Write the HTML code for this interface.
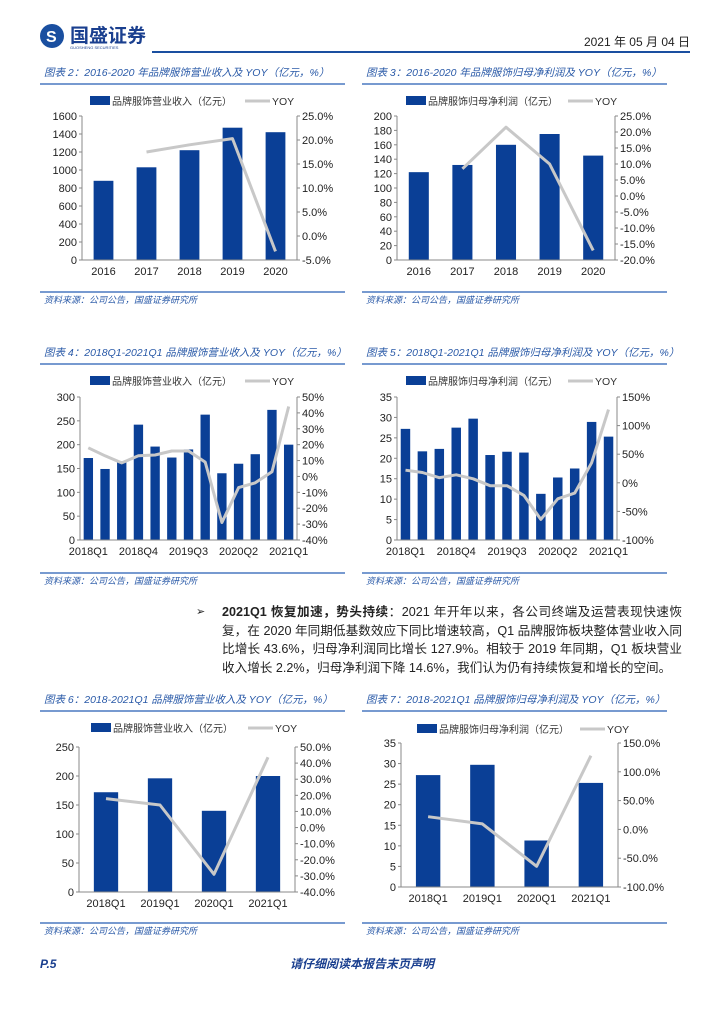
<!DOCTYPE html>
<html><head><meta charset="utf-8">
<style>
body{margin:0;background:#fff;}
svg{display:block;font-family:"Liberation Sans","Noto Sans CJK SC",sans-serif;}
.para{position:absolute;left:222px;top:603px;width:460px;font-size:12.6px;line-height:18.7px;color:#222;text-align:justify;font-family:"Liberation Sans","Noto Sans CJK SC",sans-serif;}
</style></head>
<body>
<div style="position:relative;width:724px;height:1024px;overflow:hidden">
<svg id="pg" width="724" height="1024" viewBox="0 0 724 1024">
  <g>
    <circle cx="52" cy="36" r="12" fill="#1a4fa0"/>
    <text x="46" y="42" font-size="16" font-weight="bold" fill="#fff">S</text>
    <text x="70" y="42" font-size="19" font-weight="bold" fill="#1a3f8f">国盛证券</text>
    <text x="70" y="49" font-size="4" fill="#1a3f8f">GUOSHENG SECURITIES</text>
    <text x="690" y="46" font-size="12" text-anchor="end" fill="#222">2021 年 05 月 04 日</text>
    <line x1="152" y1="52" x2="690" y2="52" stroke="#1a4fa0" stroke-width="2"/>
  </g>
  <g><text x="196" y="615" font-size="11" fill="#222">➢</text></g>
  <g>
    <text x="40" y="968" font-size="12" font-weight="bold" font-style="italic" fill="#1a3f8f">P.5</text>
    <text x="362" y="968" font-size="12" font-weight="bold" font-style="italic" fill="#1a3f8f" text-anchor="middle">请仔细阅读本报告末页声明</text>
  </g>
</svg>
<div class="para"><b>2021Q1 恢复加速，势头持续</b>：2021 年开年以来，各公司终端及运营表现快速恢复，在 2020 年同期低基数效应下同比增速较高，Q1 品牌服饰板块整体营业收入同比增长 43.6%，归母净利润同比增长 127.9%。相较于 2019 年同期，Q1 板块营业收入增长 2.2%，归母净利润下降 14.6%，我们认为仍有持续恢复和增长的空间。</div>
</div>
<script>
// ---- data ----
const yearCats = ["2016","2017","2018","2019","2020"];
const c2Bars = [880,1030,1220,1470,1420];
const c2Yoy = [null,17.5,19,20.3,-3.2];
const c2LeftTicks = [0,200,400,600,800,1000,1200,1400,1600];
const c2RightTicks = [-5,0,5,10,15,20,25];

const c3Bars = [122,132,160,175,145];
const c3Yoy = [null,8.5,21.5,10,-17];
const c3LeftTicks = [0,20,40,60,80,100,120,140,160,180,200];
const c3RightTicks = [-20,-15,-10,-5,0,5,10,15,20,25];

const qCats = ["2018Q1","2018Q2","2018Q3","2018Q4","2019Q1","2019Q2","2019Q3","2019Q4","2020Q1","2020Q2","2020Q3","2020Q4","2021Q1"];
const qShown = ["2018Q1","2018Q4","2019Q3","2020Q2","2021Q1"];
const c4Bars = [172,149,165,242,196,173,190,263,140,160,180,273,200];
const c4Yoy = [18,13,8.5,13,13.5,16,16,9,-29,-7,-4,3,44];
const c4LeftTicks = [0,50,100,150,200,250,300];
const c4RightTicks = [-40,-30,-20,-10,0,10,20,30,40,50];

const c5Bars = [27.2,21.7,22.3,27.5,29.7,20.8,21.6,21.4,11.3,15.3,17.5,28.9,25.3];
const c5Yoy = [22,18,9,14,7,-5,-5,-22,-64,-28,-18,35,128];
const c5LeftTicks = [0,5,10,15,20,25,30,35];
const c5RightTicks = [-100,-50,0,50,100,150];

const q1Cats = ["2018Q1","2019Q1","2020Q1","2021Q1"];
const c6Bars = [172,196,140,200];
const c6Yoy = [18,14,-29,43.6];
const c6LeftTicks = [0,50,100,150,200,250];
const c6RightTicks = [-40,-30,-20,-10,0,10,20,30,40,50];

const c7Bars = [27.2,29.7,11.3,25.3];
const c7Yoy = [22,9.5,-64,128];
const c7LeftTicks = [0,5,10,15,20,25,30,35];
const c7RightTicks = [-100,-50,0,50,100,150];

const NS="http://www.w3.org/2000/svg";
const pg=document.getElementById('pg');
function mk(tag,attrs,parent,txt){const e=document.createElementNS(NS,tag);for(const k in attrs)e.setAttribute(k,attrs[k]);if(txt!==undefined)e.textContent=txt;(parent||pg).appendChild(e);return e;}

function chart(o){
  const g=mk('g',{});
  
  
  const t=mk('text',{x:o.px+4,y:o.titleY,'font-size':10.5,'font-style':'italic',fill:'#2a5aa8'},g,o.title);
  
  
  mk('line',{x1:o.px,y1:o.titleY+8,x2:o.px+305,y2:o.titleY+8,stroke:'#4a78c0','stroke-width':1.5},g);
  mk('line',{x1:o.px,y1:o.srcY-8,x2:o.px+305,y2:o.srcY-8,stroke:'#4a78c0','stroke-width':1.5},g);
  const s=mk('text',{x:o.px+4,y:o.srcY+3,'font-size':9,'font-style':'italic',fill:'#2a5aa8'},g,'资料来源：公司公告，国盛证券研究所');
  
  
  const lg=mk('g',{},g);
  
  
  mk('rect',{x:o.legX,y:o.legY-5,width:20,height:9,fill:'#0a3f96'},lg);
  mk('text',{x:o.legX+22,y:o.legY+4,'font-size':10,fill:'#333'},lg,o.barLabel);
  mk('line',{x1:o.legX2,y1:o.legY,x2:o.legX2+25,y2:o.legY,stroke:'#c8c8c8','stroke-width':3},lg);
  mk('text',{x:o.legX2+27,y:o.legY+4,'font-size':10.5,fill:'#333'},lg,'YOY');
  const L=o.L,R=o.R,T=o.T,B=o.B;
  const lmax=o.lt[o.lt.length-1];
  const ly=v=>B-(v/lmax)*(B-T);
  const rmin=o.rt[0],rmax=o.rt[o.rt.length-1];
  const ry=v=>B-(v-rmin)/(rmax-rmin)*(B-T);
  const n=o.cats.length,cw=(R-L)/n;
  const cx=i=>L+cw*(i+0.5);
  o.bars.forEach((v,i)=>{
    const b=mk('rect',{x:cx(i)-cw*o.bw/2,y:ly(v),width:cw*o.bw,height:B-ly(v),fill:'#0a3f96'},g);
    
    
  });
  mk('line',{x1:L,y1:T,x2:L,y2:B,stroke:'#888'},g);
  mk('line',{x1:R,y1:T,x2:R,y2:B,stroke:'#888'},g);
  mk('line',{x1:L,y1:B,x2:R,y2:B,stroke:'#888'},g);
  o.lt.forEach(v=>{mk('line',{x1:L-3,y1:ly(v),x2:L,y2:ly(v),stroke:'#888'},g);mk('text',{x:L-5,y:ly(v)+4,'font-size':11,'text-anchor':'end',fill:'#222'},g,String(v));});
  o.rt.forEach(v=>{mk('line',{x1:R,y1:ry(v),x2:R+3,y2:ry(v),stroke:'#888'},g);mk('text',{x:R+5,y:ry(v)+4,'font-size':11,fill:'#222'},g,v.toFixed(o.dec)+'%');});
  o.cats.forEach((c,i)=>{if(o.shown.indexOf(c)>=0)mk('text',{x:cx(i),y:B+15,'font-size':11,'text-anchor':'middle',fill:'#222'},g,c);});
  let d='';o.yoy.forEach((v,i)=>{if(v===null)return;d+=(d?'L':'M')+cx(i).toFixed(1)+','+ry(v).toFixed(1);});
  const p=mk('path',{d:d,fill:'none',stroke:'#c8c8c8','stroke-width':3,'stroke-linejoin':'round'},g);
  
  
}
const rev='品牌服饰营业收入（亿元）',np='品牌服饰归母净利润（亿元）';
chart({name:'chart-2-revenue-2016-2020',px:40,titleY:76,srcY:300,title:'图表 2：2016-2020 年品牌服饰营业收入及 YOY（亿元，%）',legX:90,legX2:245,legY:101,barLabel:rev,L:82,R:297,T:116,B:260,cats:yearCats,shown:yearCats,bars:c2Bars,yoy:c2Yoy,lt:c2LeftTicks,rt:c2RightTicks,dec:1,bw:0.46});
chart({name:'chart-3-profit-2016-2020',px:362,titleY:76,srcY:300,title:'图表 3：2016-2020 年品牌服饰归母净利润及 YOY（亿元，%）',legX:406,legX2:568,legY:101,barLabel:np,L:397,R:615,T:116,B:260,cats:yearCats,shown:yearCats,bars:c3Bars,yoy:c3Yoy,lt:c3LeftTicks,rt:c3RightTicks,dec:1,bw:0.46});
chart({name:'chart-4-revenue-quarterly',px:40,titleY:356,srcY:581,title:'图表 4：2018Q1-2021Q1 品牌服饰营业收入及 YOY（亿元，%）',legX:90,legX2:245,legY:381,barLabel:rev,L:80,R:297,T:397,B:540,cats:qCats,shown:qShown,bars:c4Bars,yoy:c4Yoy,lt:c4LeftTicks,rt:c4RightTicks,dec:0,bw:0.56});
chart({name:'chart-5-profit-quarterly',px:362,titleY:356,srcY:581,title:'图表 5：2018Q1-2021Q1 品牌服饰归母净利润及 YOY（亿元，%）',legX:406,legX2:568,legY:381,barLabel:np,L:397,R:617,T:397,B:540,cats:qCats,shown:qShown,bars:c5Bars,yoy:c5Yoy,lt:c5LeftTicks,rt:c5RightTicks,dec:0,bw:0.56});
chart({name:'chart-6-revenue-q1',px:40,titleY:703,srcY:931,title:'图表 6：2018-2021Q1 品牌服饰营业收入及 YOY（亿元，%）',legX:91,legX2:248,legY:728,barLabel:rev,L:79,R:295,T:747,B:892,cats:q1Cats,shown:q1Cats,bars:c6Bars,yoy:c6Yoy,lt:c6LeftTicks,rt:c6RightTicks,dec:1,bw:0.45});
chart({name:'chart-7-profit-q1',px:362,titleY:703,srcY:931,title:'图表 7：2018-2021Q1 品牌服饰归母净利润及 YOY（亿元，%）',legX:417,legX2:580,legY:729,barLabel:np,L:401,R:618,T:743,B:887,cats:q1Cats,shown:q1Cats,bars:c7Bars,yoy:c7Yoy,lt:c7LeftTicks,rt:c7RightTicks,dec:1,bw:0.45});
</script>
</body></html>
